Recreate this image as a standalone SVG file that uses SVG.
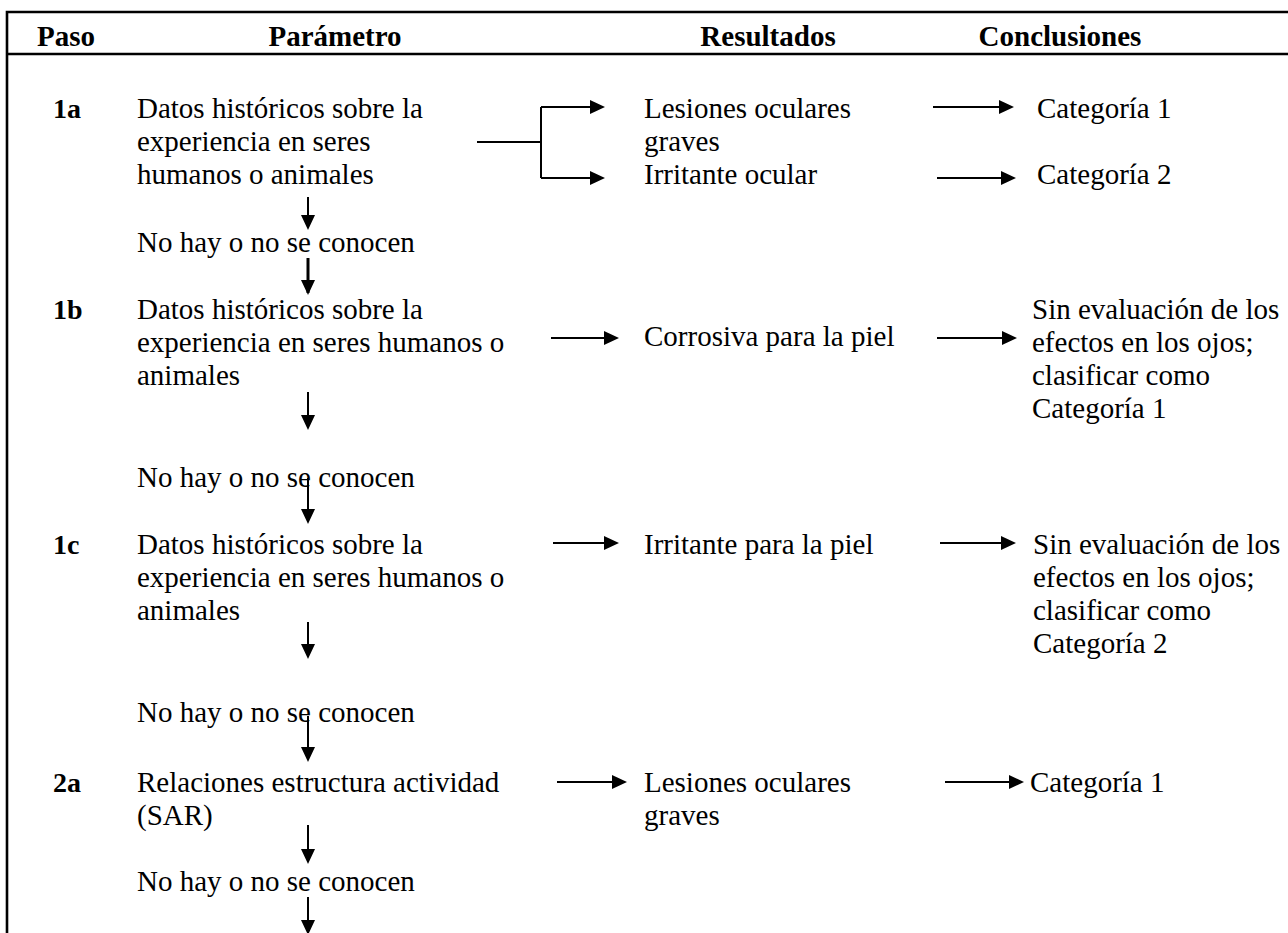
<svg xmlns="http://www.w3.org/2000/svg" width="1288" height="933" viewBox="0 0 1288 933">
<style>
text{font-family:"Liberation Serif","Times New Roman",serif;fill:#000}
.h{font-size:29px;font-weight:bold;text-anchor:middle}
.b{font-size:29px}
.l{font-size:28px;font-weight:bold}
.frame{stroke:#000;stroke-width:2.6;fill:none}
.c{stroke:#000;stroke-width:2;fill:none}
.ct{stroke:#000;stroke-width:2;fill:none;marker-end:url(#ah)}
.ck{stroke:#000;stroke-width:3;fill:none;marker-end:url(#ah)}
</style>
<defs>
<marker id="ah" markerUnits="userSpaceOnUse" markerWidth="16" markerHeight="16" refX="13" refY="7" orient="auto">
<path d="M0,0 L15,7 L0,14 Z" fill="#000"/>
</marker>
</defs>
<rect width="1288" height="933" fill="#fff"/>
<g id="frame">
<path class="frame" d="M7,933 V12 H1288"/>
<line class="frame" x1="7" y1="54" x2="1288" y2="54"/>
</g>
<g id="header">
<text class="h" x="66" y="46">Paso</text>
<text class="h" x="335" y="46">Parámetro</text>
<text class="h" x="768" y="46">Resultados</text>
<text class="h" x="1060" y="46">Conclusiones</text>
</g>
<g id="step-1a">
<text class="l" x="53" y="118">1a</text>
<text class="b" x="137" y="118">Datos históricos sobre la</text>
<text class="b" x="137" y="151">experiencia en seres</text>
<text class="b" x="137" y="184">humanos o animales</text>
</g>
<g id="res-1a-1"><text class="b" x="644" y="118">Lesiones oculares</text><text class="b" x="644" y="151">graves</text></g>
<g id="res-1a-2"><text class="b" x="644" y="184">Irritante ocular</text></g>
<g id="con-1a-1"><text class="b" x="1037" y="118">Categoría 1</text></g>
<g id="con-1a-2"><text class="b" x="1037" y="184">Categoría 2</text></g>
<g id="no-1"><text class="b" x="137" y="252">No hay o no se conocen</text></g>
<g id="step-1b">
<text class="l" x="53" y="319">1b</text>
<text class="b" x="137" y="319">Datos históricos sobre la</text>
<text class="b" x="137" y="352">experiencia en seres humanos o</text>
<text class="b" x="137" y="385">animales</text>
</g>
<g id="res-1b"><text class="b" x="644" y="346">Corrosiva para la piel</text></g>
<g id="con-1b">
<text class="b" x="1032" y="319">Sin evaluación de los</text>
<text class="b" x="1032" y="352">efectos en los ojos;</text>
<text class="b" x="1032" y="385">clasificar como</text>
<text class="b" x="1032" y="418">Categoría 1</text>
</g>
<g id="no-2"><text class="b" x="137" y="487">No hay o no se conocen</text></g>
<g id="step-1c">
<text class="l" x="53" y="554">1c</text>
<text class="b" x="137" y="554">Datos históricos sobre la</text>
<text class="b" x="137" y="587">experiencia en seres humanos o</text>
<text class="b" x="137" y="620">animales</text>
</g>
<g id="res-1c"><text class="b" x="644" y="554">Irritante para la piel</text></g>
<g id="con-1c">
<text class="b" x="1033" y="554">Sin evaluación de los</text>
<text class="b" x="1033" y="587">efectos en los ojos;</text>
<text class="b" x="1033" y="620">clasificar como</text>
<text class="b" x="1033" y="653">Categoría 2</text>
</g>
<g id="no-3"><text class="b" x="137" y="722">No hay o no se conocen</text></g>
<g id="step-2a">
<text class="l" x="53" y="792">2a</text>
<text class="b" x="137" y="792">Relaciones estructura actividad</text>
<text class="b" x="137" y="825">(SAR)</text>
</g>
<g id="res-2a"><text class="b" x="644" y="792">Lesiones oculares</text><text class="b" x="644" y="825">graves</text></g>
<g id="con-2a"><text class="b" x="1030" y="792">Categoría 1</text></g>
<g id="no-4"><text class="b" x="137" y="891">No hay o no se conocen</text></g>
<g id="connectors">
<path class="c" d="M477,142 H541 M541,107 V178"/>
<line class="ct" x1="541" y1="107" x2="603" y2="107"/>
<line class="ct" x1="541" y1="178" x2="603" y2="178"/>
<line class="ct" x1="933" y1="107" x2="1012" y2="107"/>
<line class="ct" x1="937" y1="178" x2="1014" y2="178"/>
<line class="ct" x1="308" y1="197" x2="308" y2="228"/>
<line class="ck" x1="308" y1="258" x2="308" y2="293"/>
<line class="ct" x1="551" y1="338" x2="617" y2="338"/>
<line class="ct" x1="937" y1="338" x2="1015" y2="338"/>
<line class="ct" x1="308" y1="392" x2="308" y2="428"/>
<line class="ct" x1="308" y1="478" x2="308" y2="522"/>
<line class="ct" x1="553" y1="543" x2="617" y2="543"/>
<line class="ct" x1="940" y1="543" x2="1014" y2="543"/>
<line class="ct" x1="308" y1="622" x2="308" y2="657"/>
<line class="ct" x1="308" y1="716" x2="308" y2="760"/>
<line class="ct" x1="557" y1="782" x2="625" y2="782"/>
<line class="ct" x1="945" y1="782" x2="1022" y2="782"/>
<line class="ct" x1="308" y1="825" x2="308" y2="862"/>
<line class="ct" x1="308" y1="897" x2="308" y2="933"/>
</g>
</svg>
